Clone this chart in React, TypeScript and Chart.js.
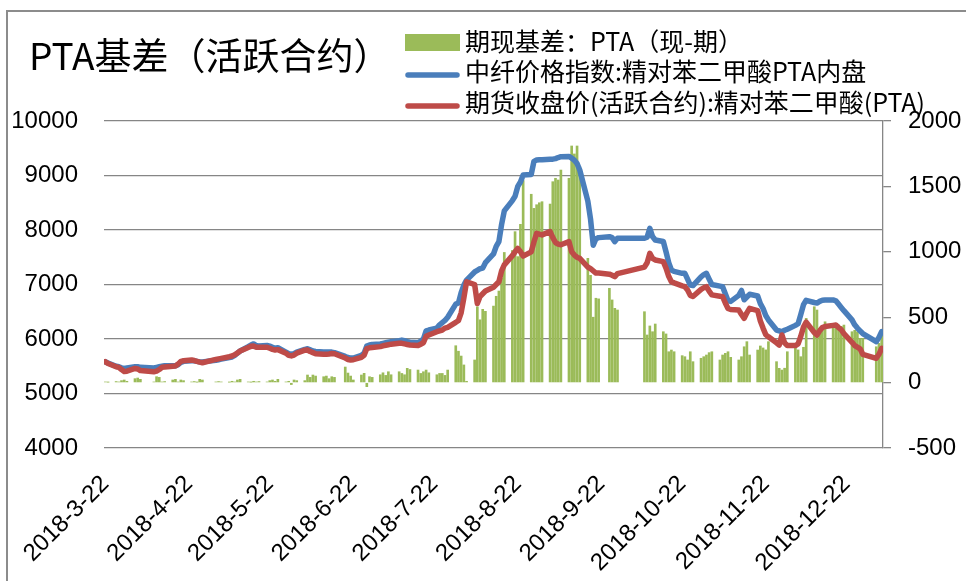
import React, { useEffect, useRef } from "react";
import { Chart, registerables } from "chart.js";

Chart.register(...registerables);

// ---- data (trading days, 2018-03-22 .. 2019-01-04) ----
const dates: string[] = [
  // Mar
  "2018-3-22", "2018-3-23", "2018-3-26", "2018-3-27", "2018-3-28", "2018-3-29", "2018-3-30",
  // Apr
  "2018-4-2", "2018-4-3", "2018-4-4", "2018-4-9", "2018-4-10", "2018-4-11", "2018-4-12", "2018-4-13",
  "2018-4-16", "2018-4-17", "2018-4-18", "2018-4-19", "2018-4-20", "2018-4-23", "2018-4-24", "2018-4-25",
  "2018-4-26", "2018-4-27",
  // May
  "2018-5-2", "2018-5-3", "2018-5-4", "2018-5-7", "2018-5-8", "2018-5-9", "2018-5-10", "2018-5-11",
  "2018-5-14", "2018-5-15", "2018-5-16", "2018-5-17", "2018-5-18", "2018-5-21", "2018-5-22", "2018-5-23",
  "2018-5-24", "2018-5-25", "2018-5-28", "2018-5-29", "2018-5-30", "2018-5-31",
  // Jun
  "2018-6-1", "2018-6-4", "2018-6-5", "2018-6-6", "2018-6-7", "2018-6-8", "2018-6-11", "2018-6-12",
  "2018-6-13", "2018-6-14", "2018-6-15", "2018-6-19", "2018-6-20", "2018-6-21", "2018-6-22", "2018-6-25",
  "2018-6-26", "2018-6-27", "2018-6-28", "2018-6-29",
  // Jul
  "2018-7-2", "2018-7-3", "2018-7-4", "2018-7-5", "2018-7-6", "2018-7-9", "2018-7-10", "2018-7-11",
  "2018-7-12", "2018-7-13", "2018-7-16", "2018-7-17", "2018-7-18", "2018-7-19", "2018-7-20", "2018-7-23",
  "2018-7-24", "2018-7-25", "2018-7-26", "2018-7-27", "2018-7-30", "2018-7-31",
  // Aug
  "2018-8-1", "2018-8-2", "2018-8-3", "2018-8-6", "2018-8-7", "2018-8-8", "2018-8-9", "2018-8-10",
  "2018-8-13", "2018-8-14", "2018-8-15", "2018-8-16", "2018-8-17", "2018-8-20", "2018-8-21", "2018-8-22",
  "2018-8-23", "2018-8-24", "2018-8-27", "2018-8-28", "2018-8-29", "2018-8-30", "2018-8-31",
  // Sep
  "2018-9-3", "2018-9-4", "2018-9-5", "2018-9-6", "2018-9-7", "2018-9-10", "2018-9-11", "2018-9-12",
  "2018-9-13", "2018-9-14", "2018-9-17", "2018-9-18", "2018-9-19", "2018-9-20", "2018-9-21", "2018-9-25",
  "2018-9-26", "2018-9-27", "2018-9-28",
  // Oct
  "2018-10-8", "2018-10-9", "2018-10-10", "2018-10-11", "2018-10-12", "2018-10-15", "2018-10-16", "2018-10-17",
  "2018-10-18", "2018-10-19", "2018-10-22", "2018-10-23", "2018-10-24", "2018-10-25", "2018-10-26", "2018-10-29",
  "2018-10-30", "2018-10-31",
  // Nov
  "2018-11-1", "2018-11-2", "2018-11-5", "2018-11-6", "2018-11-7", "2018-11-8", "2018-11-9", "2018-11-12",
  "2018-11-13", "2018-11-14", "2018-11-15", "2018-11-16", "2018-11-19", "2018-11-20", "2018-11-21", "2018-11-22",
  "2018-11-23", "2018-11-26", "2018-11-27", "2018-11-28", "2018-11-29", "2018-11-30",
  // Dec
  "2018-12-3", "2018-12-4", "2018-12-5", "2018-12-6", "2018-12-7", "2018-12-10", "2018-12-11", "2018-12-12",
  "2018-12-13", "2018-12-14", "2018-12-17", "2018-12-18", "2018-12-19", "2018-12-20", "2018-12-21", "2018-12-24",
  "2018-12-25", "2018-12-26", "2018-12-27", "2018-12-28",
  // Jan
  "2019-1-2", "2019-1-3", "2019-1-4",
];

// 中纤价格指数:精对苯二甲酸PTA内盘 (left axis)
const spotIndex: number[] = [
  5580, 5560, 5500, 5490, 5470, 5460, 5470,
  5490, 5490, 5480, 5470, 5480, 5490, 5500, 5510, 5510, 5510, 5530, 5570, 5590, 5600, 5600, 5590, 5580, 5580,
  5610, 5620, 5630, 5660, 5670, 5700, 5740, 5780, 5860, 5890, 5910, 5880, 5870, 5880, 5870, 5850, 5830, 5840, 5760, 5730, 5720, 5730,
  5760, 5810, 5820, 5800, 5780, 5770, 5760, 5760, 5760, 5760, 5750, 5680, 5660, 5650, 5650, 5700, 5740, 5870, 5890, 5900,
  5910, 5920, 5930, 5940, 5950, 5970, 5980, 5970, 5950, 5940, 5930, 5960, 6000, 6150, 6165, 6200, 6260, 6300, 6340, 6400, 6640, 6660,
  6850, 6990, 7080, 7230, 7260, 7290, 7300, 7400, 7560, 7700, 7786, 8100, 8350, 8540, 8620, 8800, 8880, 9010, 9020, 9260, 9285, 9290, 9290,
  9300, 9300, 9310, 9330, 9345, 9350, 9320, 9280, 9220, 9100, 8530, 8200, 7720, 7840, 7860, 7878, 7860, 7786, 7850,
  7850, 7870, 8031, 7880, 7817, 7790, 7600, 7400, 7266, 7240, 7205, 7205, 7100, 6990, 6980, 7140, 7180, 7205,
  7100, 7000, 6970, 6960, 6830, 6700, 6690, 6800, 6890, 6720, 6770, 6820, 6790, 6650, 6560, 6430, 6350, 6165, 6150, 6134, 6160, 6180,
  6250, 6280, 6450, 6630, 6710, 6670, 6660, 6690, 6710, 6716, 6716, 6700, 6640, 6580, 6520, 6350, 6260, 6200, 6150, 6100,
  5950, 6030, 6134,
];

// 期货收盘价(活跃合约):精对苯二甲酸(PTA) (left axis)
const futuresClose: number[] = [
  5583, 5550, 5490, 5480, 5440, 5405, 5410,
  5460, 5450, 5420, 5400, 5410, 5440, 5480, 5485, 5500, 5505, 5540, 5590, 5600, 5615, 5605, 5590, 5575, 5565,
  5625, 5635, 5645, 5675, 5688, 5710, 5745, 5780, 5845, 5865, 5870, 5850, 5847, 5850, 5830, 5810, 5798, 5805, 5740, 5700, 5690, 5706,
  5740, 5795, 5798, 5770, 5750, 5730, 5720, 5719, 5725, 5735, 5730, 5650, 5625, 5615, 5620, 5665, 5700, 5825, 5838, 5845,
  5860, 5875, 5885, 5895, 5905, 5920, 5920, 5910, 5900, 5890, 5880, 5905, 5930, 6050, 6073, 6134, 6150, 6165, 6200, 6215, 6305, 6340,
  6480, 6750, 7050, 7000, 6650, 6780, 6830, 6880, 6950, 7000, 7050, 7250, 7360, 7530, 7600, 7664, 7600, 7520, 7600, 7780, 7939, 7925, 7910,
  7970, 7860, 7770, 7740, 7730, 7786, 7600, 7540, 7500, 7480, 7320, 7290, 7250, 7210, 7210, 7190, 7170, 7143, 7200,
  7320, 7400, 7572, 7480, 7450, 7419, 7300, 7150, 7052, 7030, 6975, 6960, 6900, 6800, 6780, 6910, 6940, 6960,
  6880, 6810, 6785, 6777, 6660, 6560, 6540, 6530, 6450, 6380, 6480, 6563, 6520, 6330, 6200, 6080, 6040, 5930, 5890, 6073, 5930, 5880,
  5880, 5910, 6050, 6220, 6310, 6120, 6073, 6150, 6210, 6230, 6250, 6257, 6210, 6170, 6100, 5940, 5880, 5850, 5820, 5720,
  5646, 5720, 5830,
];

// 期现基差：PTA（现-期） (right axis)
const basis: number[] = [
  5, 3, 8, 5, 15, 20, 10,
  30, 35, 25, 5, 45, 40, 5, 8, 20, 25, 5, 20, 15, 5, 8, 3, 25, 20,
  5, 8, 5, 3, 10, 5, 20, 25, 5, 3, 10, 5, 8, 5, 15, 20, 10, 25, 5, 10, -15, 20,
  15, 15, 58, 40, 58, 50, 45, 50, 30, 45, 40, 119, 73, 50, 20, 58, 71, -31, 45, 40,
  60, 75, 55, 83, 60, 83, 70, 60, 109, 100, 96, 70, 83, 96, 75, 60, 70, 70, 55, 96, 282, 240,
  203, 135, 10, 173, 580, 480, 560, 545, 585, 660, 700, 800, 995, 1010, 1154, 963, 1210, 1545, 1440, 1332, 1360, 1375, 1383,
  1365, 1536, 1562, 1549, 1625, 1562, 1809, 1748, 1809, 1651, 950, 820, 500, 645, 640, 721, 632, 568, 555,
  542, 364, 433, 389, 448, 389, 372, 236, 249, 236, 206, 198, 173, 236, 160, 186, 198, 211,
  229, 236, 173, 211, 224, 236, 193, 173, 198, 274, 313, 211, 249, 280, 265, 250, 313, 160, 109, 96, 110, 236,
  274, 250, 198, 270, 491, 580, 555, 415, 430, 465, 453, 415, 440, 430, 440, 389, 400, 389, 338, 338,
  274, 300, 377,
];

const tickDates: string[] = [
  "2018-3-22", "2018-4-22", "2018-5-22", "2018-6-22", "2018-7-22",
  "2018-8-22", "2018-9-22", "2018-10-22", "2018-11-22", "2018-12-22",
];

const titleText = "PTA基差（活跃合约）";
const legendBasis = "期现基差：PTA（现-期）";
const legendSpot = "中纤价格指数:精对苯二甲酸PTA内盘";
const legendFutures = "期货收盘价(活跃合约):精对苯二甲酸(PTA)";

const GREEN = "#9BBB59";
const BLUE = "#4A7EBB";
const RED = "#BE4B48";
const GRID = "#868686";
const NUM_FONT = "Liberation Sans";
const CJK_FONT = '"Noto Sans CJK SC"';

const toDay = (s: string) => {
  const [y, m, d] = s.split("-").map(Number);
  return Math.round((Date.UTC(y, m - 1, d) - Date.UTC(2018, 2, 22)) / 86400000);
};

const xs = dates.map(toDay);
const tickDays = tickDates.map(toDay);
const pts = (vals: number[]) => vals.map((v, i) => ({ x: xs[i], y: v }));

const decorPlugin = {
  id: "decor",
  beforeDraw(chart: any) {
    const ctx = chart.ctx as CanvasRenderingContext2D;
    ctx.save();
    ctx.fillStyle = "#ffffff";
    ctx.fillRect(0, 0, chart.width, chart.height);
    ctx.strokeStyle = "#8c8c8c";
    ctx.lineWidth = 2;
    ctx.beginPath();
    ctx.moveTo(7, chart.height + 2);
    ctx.lineTo(7, 11);
    ctx.lineTo(chart.width + 2, 11);
    ctx.stroke();
    ctx.restore();
  },
  afterDraw(chart: any) {
    const ctx = chart.ctx as CanvasRenderingContext2D;
    ctx.save();
    ctx.fillStyle = "#000";
    ctx.textBaseline = "middle";
    ctx.textAlign = "left";
    ctx.font = `37px ${CJK_FONT}`;
    ctx.fillText(titleText, 29, 56);

    // legend
    ctx.fillStyle = GREEN;
    ctx.fillRect(405, 34, 55, 17);
    ctx.lineCap = "round";
    ctx.lineWidth = 5.5;
    ctx.strokeStyle = BLUE;
    ctx.beginPath();
    ctx.moveTo(408, 75);
    ctx.lineTo(457, 75);
    ctx.stroke();
    ctx.strokeStyle = RED;
    ctx.beginPath();
    ctx.moveTo(408, 106);
    ctx.lineTo(457, 106);
    ctx.stroke();

    ctx.fillStyle = "#000";
    ctx.font = `25px ${CJK_FONT}`;
    ctx.fillText(legendBasis, 465, 41);
    ctx.fillText(legendSpot, 465, 71);
    ctx.fillText(legendFutures, 465, 102);
    ctx.restore();
  },
};

export default function App() {
  const canvasRef = useRef<HTMLCanvasElement | null>(null);

  useEffect(() => {
    if (!canvasRef.current) return;
    const plain = (value: any) => String(value);
    const chart = new Chart(canvasRef.current, {
      type: "bar",
      data: {
        datasets: [
          {
            type: "line",
            label: legendFutures,
            data: pts(futuresClose),
            borderColor: RED,
            backgroundColor: RED,
            borderWidth: 5.5,
            pointRadius: 0,
            tension: 0,
            borderJoinStyle: "round",
            borderCapStyle: "round",
            yAxisID: "y",
            order: 1,
          } as any,
          {
            type: "line",
            label: legendSpot,
            data: pts(spotIndex),
            borderColor: BLUE,
            backgroundColor: BLUE,
            borderWidth: 5.5,
            pointRadius: 0,
            tension: 0,
            borderJoinStyle: "round",
            borderCapStyle: "round",
            yAxisID: "y",
            order: 2,
          } as any,
          {
            type: "bar",
            label: legendBasis,
            data: pts(basis),
            backgroundColor: GREEN,
            borderWidth: 0,
            barThickness: 2,
            yAxisID: "y1",
            order: 3,
          } as any,
        ],
      },
      options: {
        responsive: false,
        animation: false,
        events: [],
        layout: { padding: { top: 121, left: 0, right: 0, bottom: 0 } },
        plugins: {
          legend: { display: false },
          title: { display: false },
          tooltip: { enabled: false },
        },
        scales: {
          x: {
            type: "linear",
            position: "bottom",
            min: -0.5,
            max: 288.5,
            offset: false,
            afterBuildTicks: (scale: any) => {
              scale.ticks = tickDays.map((v) => ({ value: v }));
            },
            afterFit: (scale: any) => {
              scale.height = 133;
            },
            grid: { display: false },
            border: { display: false },
            ticks: {
              autoSkip: false,
              maxRotation: 45,
              minRotation: 45,
              padding: 14,
              color: "#000",
              font: { family: NUM_FONT, size: 24 },
              callback: (value: any) => {
                const idx = tickDays.indexOf(Number(value));
                return idx >= 0 ? tickDates[idx] : "";
              },
            },
          },
          y: {
            type: "linear",
            position: "left",
            min: 4000,
            max: 10000,
            afterFit: (scale: any) => {
              scale.width = 104;
            },
            grid: { color: GRID, lineWidth: 1.3, drawTicks: false },
            border: { display: false },
            ticks: {
              stepSize: 1000,
              padding: 26,
              color: "#000",
              font: { family: NUM_FONT, size: 24 },
              callback: plain,
            },
          },
          y1: {
            type: "linear",
            position: "right",
            min: -500,
            max: 2000,
            afterFit: (scale: any) => {
              scale.width = 83;
            },
            grid: {
              drawOnChartArea: false,
              drawTicks: true,
              tickLength: 8,
              color: GRID,
              lineWidth: 1.3,
            },
            border: { display: true, color: GRID, width: 1.3 },
            ticks: {
              stepSize: 500,
              padding: 17,
              color: "#000",
              font: { family: NUM_FONT, size: 24 },
              callback: plain,
            },
          },
        },
      } as any,
      plugins: [decorPlugin],
    });
    return () => chart.destroy();
  }, []);

  return (
    <div style={{ position: "fixed", left: 0, top: 0, width: 966, height: 581, background: "#fff" }}>
      <canvas ref={canvasRef} width={966} height={581} style={{ width: 966, height: 581, display: "block" }} />
    </div>
  );
}
